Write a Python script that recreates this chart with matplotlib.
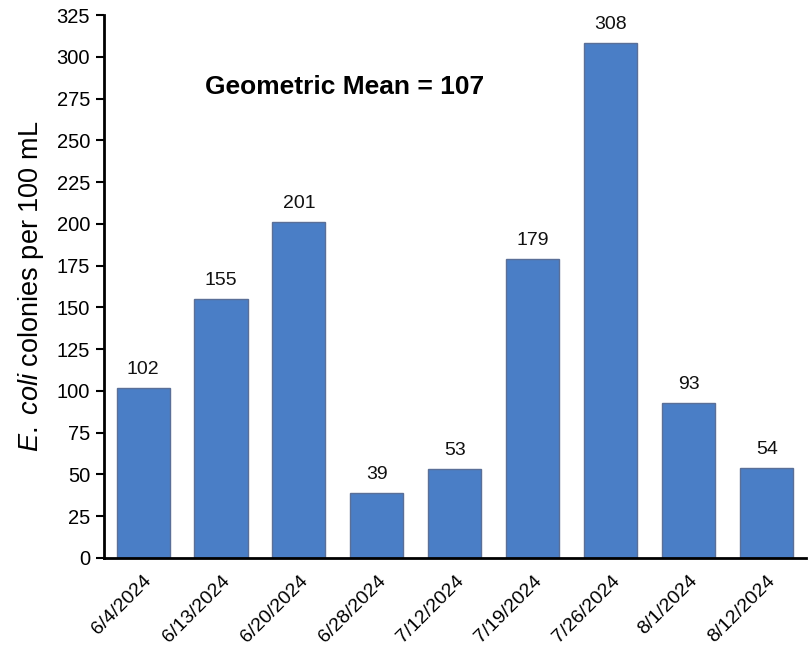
import matplotlib
matplotlib.use('Agg')
import matplotlib.pyplot as plt
import numpy as np

dates = ['6/4/2024', '6/13/2024', '6/20/2024', '6/28/2024', '7/12/2024',
         '7/19/2024', '7/26/2024', '8/1/2024', '8/12/2024']
counts = [102, 155, 201, 39, 53, 179, 308, 93, 54]
geo_mean = 107
yticks = np.arange(0, 326, 25)

plt.rcParams['font.family'] = ['Liberation Sans', 'DejaVu Sans']
plt.rcParams['mathtext.fontset'] = 'custom'
plt.rcParams['mathtext.it'] = 'Liberation Sans:italic'
plt.rcParams['mathtext.rm'] = 'Liberation Sans'

fig = plt.figure(figsize=(8.09, 6.56), dpi=100)
ax = fig.add_axes([0.1286, 0.1494, 0.8674, 0.8276])

x = np.arange(len(dates))
ax.bar(x, counts, width=0.68, color='#4a7ec6', edgecolor='#5a6f98', linewidth=1)
for xi, v in zip(x, counts):
    ax.text(xi, v + 6, str(v), ha='center', va='bottom', fontsize=14, color='#111111')

ax.set_xlim(-0.5, len(dates) - 0.5)
ax.set_ylim(0, 325)
ax.set_yticks(yticks)
ax.set_yticklabels([str(t) for t in yticks], fontsize=14.5)
ax.set_xticks(x)
ax.set_xticklabels(dates, rotation=45, ha='right', rotation_mode='anchor', fontsize=14)
ax.tick_params(axis='x', length=0, pad=10)
ax.tick_params(axis='y', direction='out', length=6, width=1.5, pad=4)

for s in ['top', 'right']:
    ax.spines[s].set_visible(False)
ax.spines['left'].set_linewidth(2)
ax.spines['bottom'].set_linewidth(2)

ax.set_ylabel(r'$\mathit{E.}$ $\mathit{coli}$ colonies per 100 mL', fontsize=19.5, labelpad=8)
ax.text(0.144, 0.867, 'Geometric Mean = %d' % geo_mean, transform=ax.transAxes,
        fontsize=19, fontweight='bold', va='center', ha='left')

fig.savefig('out.png', dpi=100)
